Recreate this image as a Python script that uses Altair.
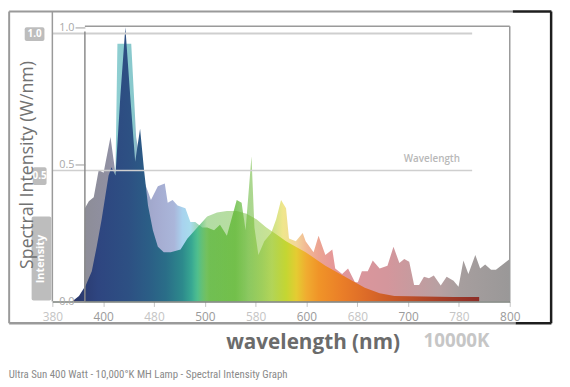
import altair as alt
import pandas as pd

# ---- data ----
# broad lamp spectrum (pale, spiky)
spec_wl = [381.0, 382.0, 385.9, 390.7, 395.6, 400.4, 407.2, 410.1, 412.1, 414.0, 427.6, 432.4,
           439.2, 444.1, 447.0, 453.8, 460.6, 463.5, 468.3, 473.2, 480.9, 485.8, 490.6, 497.4,
           502.3, 509.1, 514.9, 521.7, 531.4, 536.2, 540.1, 545.9, 548.8, 552.7, 558.5, 565.3,
           570.2, 575.0, 579.9, 582.8, 589.5, 596.3, 599.2, 607.0, 611.9, 618.6, 625.4, 628.3,
           635.1, 640.9, 647.7, 650.6, 654.5, 660.3, 665.2, 672.0, 679.7, 685.6, 691.4, 696.2,
           701.1, 705.9, 710.8, 715.6, 720.5, 725.3, 732.1, 737.9, 744.7, 749.6, 754.4, 759.3,
           766.1, 770.9, 775.8, 781.6, 786.4, 800.0]
spec_val = [0.0, 0.34, 0.366, 0.38, 0.48, 0.47, 0.60, 0.52, 0.47, 0.94, 0.94, 0.60,
            0.45, 0.40, 0.37, 0.42, 0.43, 0.36, 0.37, 0.35, 0.34, 0.29, 0.29, 0.27,
            0.27, 0.26, 0.28, 0.24, 0.37, 0.36, 0.26, 0.53, 0.27, 0.17, 0.22, 0.25,
            0.30, 0.37, 0.34, 0.23, 0.22, 0.25, 0.22, 0.18, 0.24, 0.17, 0.19, 0.12,
            0.10, 0.12, 0.07, 0.07, 0.11, 0.11, 0.15, 0.12, 0.13, 0.20, 0.14, 0.155,
            0.145, 0.06, 0.06, 0.09, 0.085, 0.095, 0.058, 0.09, 0.076, 0.054, 0.15, 0.10,
            0.17, 0.12, 0.135, 0.116, 0.116, 0.155]

# 10000K lamp curve (saturated rainbow)
curve_wl = [369.4, 376.2, 383.0, 388.8, 393.6, 398.5, 405.3, 408.2, 412.1, 416.9, 421.8, 426.6,
            431.5, 436.3, 440.2, 444.1, 448.9, 453.8, 459.6, 466.4, 476.1, 482.9, 492.6, 502.3,
            512.0, 521.7, 531.4, 541.1, 550.8, 560.5, 570.2, 579.9, 589.5, 599.2, 608.9, 618.6,
            628.3, 638.0, 647.7, 657.4, 672.0, 686.5, 715.6, 744.7, 769.9]
curve_val = [0.0, 0.02, 0.06, 0.11, 0.20, 0.30, 0.46, 0.49, 0.46, 0.75, 1.00, 0.75,
             0.51, 0.63, 0.48, 0.35, 0.26, 0.20, 0.18, 0.18, 0.19, 0.23, 0.27, 0.31,
             0.325, 0.33, 0.33, 0.32, 0.30, 0.27, 0.245, 0.22, 0.20, 0.18, 0.155, 0.13,
             0.11, 0.09, 0.07, 0.05, 0.03, 0.02, 0.018, 0.016, 0.016]

x_ticks = [350, 400, 450, 500, 550, 600, 650, 700, 750, 800]
y_ticks = [0.0, 0.5, 1.0]

spec_df = pd.DataFrame({"wl": spec_wl, "val": spec_val})
curve_df = pd.DataFrame({"wl": curve_wl, "val": curve_val})

# ---- styling ----
FONT = "Open Sans"
xs = alt.Scale(domain=[350, 800], nice=False, zero=False)
ys = alt.Scale(domain=[0, 1.05], nice=False)


def grad(stops, lo, hi):
    return alt.Gradient(
        gradient="linear", x1=0, y1=0, x2=1, y2=0,
        stops=[alt.GradientStop(color=c, offset=max(0.0, min(1.0, (w - lo) / (hi - lo))))
               for w, c in stops])


spec_stops = [
    (381, "#8d8d97"), (405, "#9090a2"), (410.5, "#9494aa"), (412.5, "#8fcfd2"),
    (430, "#88c8cc"), (436, "#98a4c4"), (450, "#a4aacf"), (470, "#aab6da"),
    (478, "#a8d2ee"), (486, "#a8dced"), (494, "#9cd6b0"), (505, "#86c96a"),
    (530, "#82c864"), (543, "#a8d690"), (556, "#b8da8c"), (570, "#d8e488"),
    (577, "#f0e68c"), (590, "#f2d69a"), (600, "#f2b894"), (612, "#eca492"),
    (625, "#e69898"), (645, "#dc969c"), (680, "#d4969c"), (700, "#c99a9e"),
    (730, "#b8a0a2"), (752, "#a69e9e"), (800, "#9a9898")]

curve_stops = [
    (369.4, "#2a3668"), (395, "#2e4580"), (425, "#2d5083"), (445, "#2b5e86"),
    (462, "#2a6e88"), (478, "#2d8a8c"), (487, "#38a892"), (493, "rgba(60,185,130,0.8)"),
    (502, "rgba(85,178,55,0.45)"), (540, "rgba(100,182,40,0.45)"),
    (566, "rgba(150,200,40,0.5)"), (580, "rgba(196,214,50,1)"), (590, "#e4cc32"),
    (600, "#f0ac30"), (612, "#f09428"), (635, "#ea7e28"), (660, "#dc6a28"),
    (690, "#c45628"), (730, "#a84028"), (769.9, "#8c2e28")]

x_axis = alt.Axis(
    values=x_ticks,
    labelExpr="datum.value % 100 == 50 ? format(datum.value + 30, 'd') : format(datum.value, 'd')",
    labelColor={"condition": {"test": "datum.value % 100 == 50", "value": "#c4c4c4"},
                "value": "#9a9a9a"},
    labelFont=FONT, labelFontSize=12, labelPadding=5, labelFlush=False,
    tickColor="#c4c4c4", tickSize=5, domainColor="#7a7f7a", domainWidth=1.5, grid=False,
    title="wavelength (nm)", titleFont=FONT, titleFontSize=21, titleFontWeight="bold",
    titleColor="#6b6b6b", titleX=264, titleY=42, titleAlign="center", titleBaseline="middle",
    zindex=2)

y_axis = alt.Axis(
    values=y_ticks, format=".1f", offset=-33, domain=False,
    labelColor="#a8a8a8", labelFont=FONT, labelFontSize=11, labelPadding=1,
    tickColor="#9a9a9a", tickSize=10, grid=False, zindex=2,
    title="Spectral Intensity (W/nm)", titleFont=FONT, titleFontSize=18,
    titleFontWeight="normal", titleColor="#727272", titleX=-58, titleY=153,
    titleAngle=270, titleAlign="center", titleBaseline="middle")

X_T = "wavelength (nm)"
Y_T = "Spectral Intensity (W/nm)"

spec = alt.Chart(spec_df).mark_area(
    color=grad(spec_stops, min(spec_wl), max(spec_wl)), interpolate="linear"
).encode(
    x=alt.X("wl:Q", scale=xs, axis=x_axis, title=X_T),
    y=alt.Y("val:Q", scale=ys, axis=y_axis, title=Y_T),
)

curve = alt.Chart(curve_df).mark_area(
    color=grad(curve_stops, min(curve_wl), max(curve_wl)), interpolate="linear"
).encode(
    x=alt.X("wl:Q", scale=xs, title=X_T),
    y=alt.Y("val:Q", scale=ys, title=Y_T),
)

# frame / reference lines (in data units through the scales)
lines_df = pd.DataFrame([
    # light reference lines
    {"wl": 350, "wl2": 763, "val": 0.978, "val2": 0.978, "c": "#cfcfcf", "w": 2.0},
    {"wl": 350, "wl2": 763, "val": 0.478, "val2": 0.478, "c": "#cfcfcf", "w": 1.5},
    # inner box
    {"wl": 382, "wl2": 800, "val": 1.004, "val2": 1.004, "c": "#9a9a9a", "w": 1.5},
    {"wl": 382, "wl2": 382, "val": 0.0, "val2": 0.985, "c": "#8a8a8a", "w": 1.5},
    {"wl": 800, "wl2": 800, "val": 0.0, "val2": 1.004, "c": "#9a9a9a", "w": 1.5},
    # outer left line at plot edge
    {"wl": 350, "wl2": 350, "val": 0.0, "val2": 1.056, "c": "#9a9a9a", "w": 1.5},
    # outer frame (grey)
    {"wl": 307.5, "wl2": 803.0, "val": 1.0576, "val2": 1.0576, "c": "#9a9a9a", "w": 2.0},
    {"wl": 307.5, "wl2": 307.5, "val": 1.0576, "val2": -0.079, "c": "#9a9a9a", "w": 2.0},
    {"wl": 307.5, "wl2": 805.8, "val": -0.079, "val2": -0.079, "c": "#9a9a9a", "w": 2.5},
    # outer frame (black part)
    {"wl": 803.0, "wl2": 841.0, "val": 1.0576, "val2": 1.0576, "c": "#1e1e1e", "w": 2.5},
    {"wl": 840.7, "wl2": 840.7, "val": 1.0576, "val2": -0.079, "c": "#1e1e1e", "w": 2.5},
    {"wl": 805.8, "wl2": 841.0, "val": -0.079, "val2": -0.079, "c": "#1e1e1e", "w": 2.5},
])

lines = alt.Chart(lines_df).mark_rule().encode(
    x=alt.X("wl:Q", scale=xs, title=X_T), x2="wl2",
    y=alt.Y("val:Q", scale=ys, title=Y_T), y2="val2",
    color=alt.Color("c:N", scale=None),
    strokeWidth=alt.StrokeWidth("w:Q", scale=None),
)

# badge boxes on the left
boxes_df = pd.DataFrame([
    {"wl": 322.8, "wl2": 342.2, "val": 1.0, "val2": 0.95},
    {"wl": 330.7, "wl2": 344.3, "val": 0.49, "val2": 0.425},
    {"wl": 329.6, "wl2": 349.0, "val": 0.31, "val2": 0.004},
])
boxes = alt.Chart(boxes_df).mark_rect(color="#bdbdbd", cornerRadius=2).encode(
    x=alt.X("wl:Q", scale=xs, title=X_T), x2="wl2",
    y=alt.Y("val:Q", scale=ys, title=Y_T), y2="val2",
)


def text_layer(rows, **mark_kw):
    return alt.Chart(pd.DataFrame(rows)).mark_text(**mark_kw).encode(
        x=alt.X("wl:Q", scale=xs, title=X_T),
        y=alt.Y("val:Q", scale=ys, title=Y_T),
        text="t:N")


badge_txt = text_layer(
    [{"wl": 332.5, "val": 0.975, "t": "1.0"}, {"wl": 337.5, "val": 0.457, "t": "0.5"}],
    color="white", font=FONT, fontSize=10, fontWeight="bold")

intensity_txt = text_layer(
    [{"wl": 339.3, "val": 0.155, "t": "Intensity"}],
    color="white", font=FONT, fontSize=11, fontWeight="bold", angle=270)

wl_note = text_layer(
    [{"wl": 723.4, "val": 0.52, "t": "Wavelength"}],
    color="#b8b8b8", font=FONT, fontSize=10, fontWeight=600)

k_note = text_layer(
    [{"wl": 747.6, "val": -0.144, "t": "10000K"}],
    color="#c6c6c6", font=FONT, fontSize=19, fontWeight="bold")

caption = text_layer(
    [{"wl": 307.0, "val": -0.27,
      "t": "Ultra Sun 400 Watt - 10,000°K MH Lamp - Spectral Intensity Graph"}],
    color="#8a8a8a", font="Liberation Sans Narrow, Roboto Condensed, sans-serif",
    fontSize=11, align="left")

chart = alt.layer(
    spec, curve, lines, boxes, badge_txt, intensity_txt, wl_note, k_note, caption
).properties(
    width=464, height=292,
    autosize=alt.AutoSizeParams(type="none"),
    padding={"left": 45, "top": 3, "right": 53, "bottom": 84},
    background="white",
).configure_view(stroke=None)

chart.save("out.html", embed_options={"renderer": "svg", "actions": False})
